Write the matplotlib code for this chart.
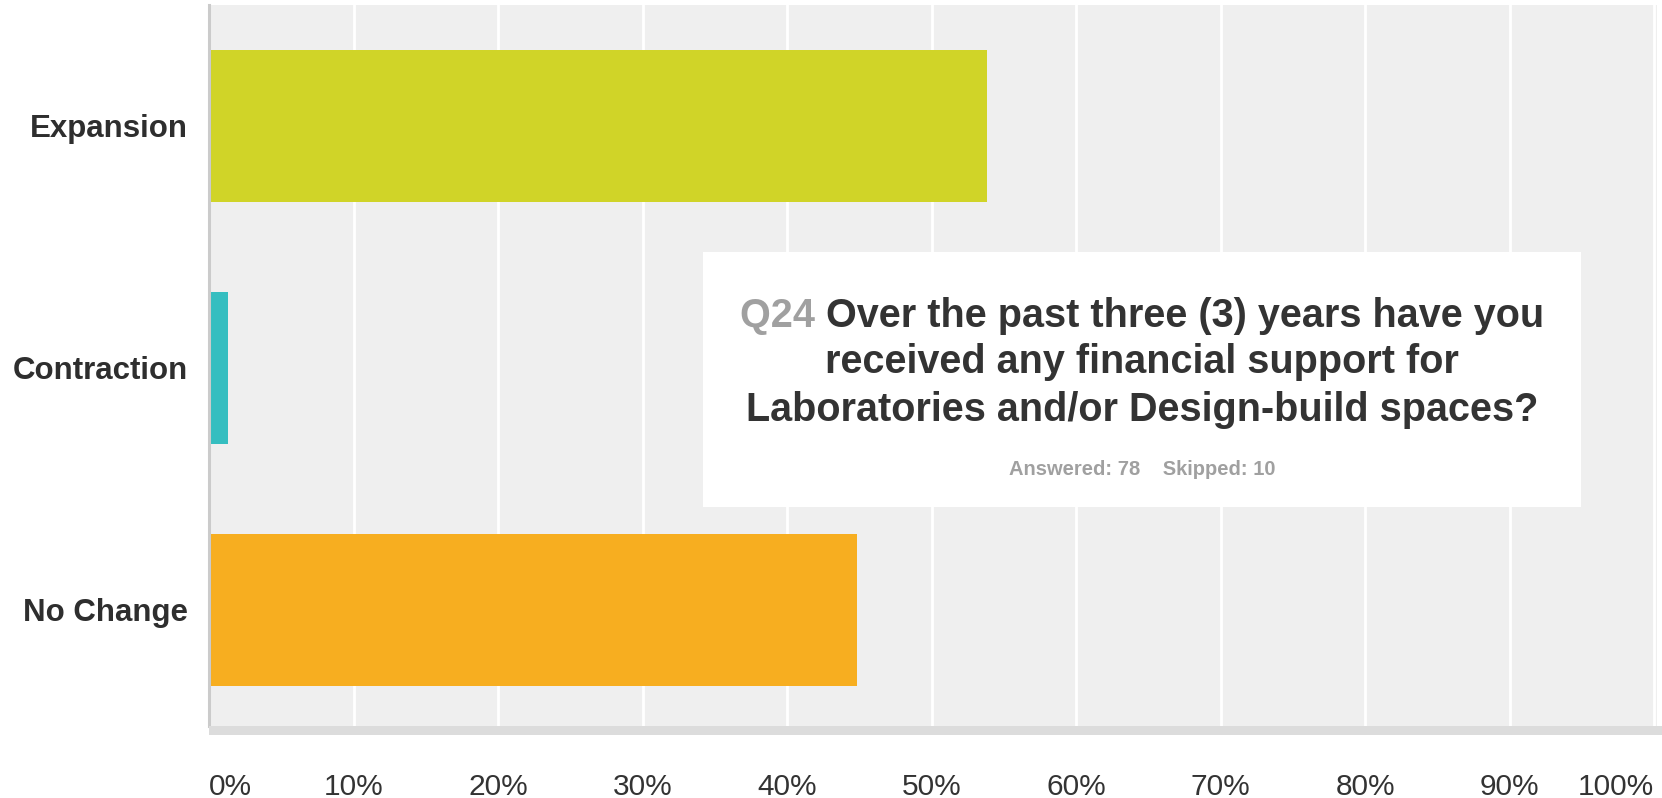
import matplotlib
matplotlib.use("Agg")
import matplotlib.pyplot as plt
from matplotlib.patches import Rectangle

# Survey answers (share of respondents, %)
categories = ["Expansion", "Contraction", "No Change"]
counts = [42, 1, 35]
answered = 78
skipped = 10
shares = [c / answered * 100 for c in counts]
bar_colors = ["#d0d428", "#35bec0", "#f7ae20"]
xticks = list(range(0, 101, 10))
xtick_labels = [f"{t}%" for t in xticks]

question_id = "Q24"
question_lines = [
    "Over the past three (3) years have you",
    "received any financial support for",
    "Laboratories and/or Design-build spaces?",
]

W, H = 1662, 798
fig = plt.figure(figsize=(W / 100, H / 100), dpi=100)
fig.patch.set_facecolor("white")

# axes placed in pixel terms
left, right, top, bottom = 209, 1657, 5, 726
ax = fig.add_axes([left / W, 1 - bottom / H, (right - left) / W, (bottom - top) / H])
ax.set_facecolor("#efefef")

ypos = list(range(len(categories)))
ax.barh(ypos, shares, height=0.63, color=bar_colors, zorder=3)
ax.set_ylim(2.48, -0.5)
ax.set_xlim(0, 100.2)

ax.set_xticks(xticks)
ax.set_xticklabels(xtick_labels)
ax.set_yticks(ypos)
ax.set_yticklabels(categories)
ax.grid(axis="x", color="white", linewidth=2.0, zorder=1)
ax.grid(axis="y", visible=False)
ax.tick_params(axis="both", length=0)
ax.tick_params(axis="y", pad=15, labelsize=22.5, labelcolor="#2e2e2e")
ax.tick_params(axis="x", pad=34, labelsize=21.5, labelcolor="#333333")
for lab in ax.get_yticklabels():
    lab.set_fontfamily("Liberation Sans")
    lab.set_fontweight("bold")
for lab in ax.get_xticklabels():
    lab.set_fontfamily("Liberation Sans")
xl = ax.get_xticklabels()
xl[0].set_ha("left")
xl[-1].set_ha("right")

for side in ["top", "right", "bottom"]:
    ax.spines[side].set_visible(False)
ax.spines["left"].set_color("#cbcbcb")
ax.spines["left"].set_linewidth(2.2)
ax.spines["left"].set_zorder(4)

# grey strip under the plot area
fig.patches.append(Rectangle((left / W, 1 - 735 / H), 1 - left / W, 9 / H,
                             transform=fig.transFigure, facecolor="#dcdcdc",
                             edgecolor="none", zorder=0))

# question box
bx0, bx1, by0, by1 = 703, 1581, 252, 507
box = Rectangle((bx0 / W, 1 - by1 / H), (bx1 - bx0) / W, (by1 - by0) / H,
                transform=fig.transFigure, facecolor="white", edgecolor="none",
                zorder=5)
fig.patches.append(box)

fam = "Liberation Sans"
cx = (bx0 + bx1) / 2 / W
line_y = [316, 362, 410]
fs = 28.5
renderer = fig.canvas.get_renderer()

# first line: grey question number followed by dark text, centred together
t_id = fig.text(0, 1 - line_y[0] / H, question_id + " ", family=fam, fontweight="bold",
                fontsize=fs, color="#a0a0a0", va="center", ha="left", zorder=6)
t_q = fig.text(0, 1 - line_y[0] / H, question_lines[0], family=fam, fontweight="bold",
               fontsize=fs, color="#333333", va="center", ha="left", zorder=6)
w_id = t_id.get_window_extent(renderer).width
w_q = t_q.get_window_extent(renderer).width
x_start = cx * W - (w_id + w_q) / 2
t_id.set_x(x_start / W)
t_q.set_x((x_start + w_id) / W)

for txt, yy in zip(question_lines[1:], line_y[1:]):
    fig.text(cx, 1 - yy / H, txt, family=fam, fontweight="bold", fontsize=fs,
             color="#333333", va="center", ha="center", zorder=6)

fig.text(cx, 1 - 469 / H, f"Answered: {answered}    Skipped: {skipped}", family=fam,
         fontweight="bold", fontsize=14.5, color="#a0a0a0", va="center",
         ha="center", zorder=6)

fig.savefig("out.png", dpi=100)
